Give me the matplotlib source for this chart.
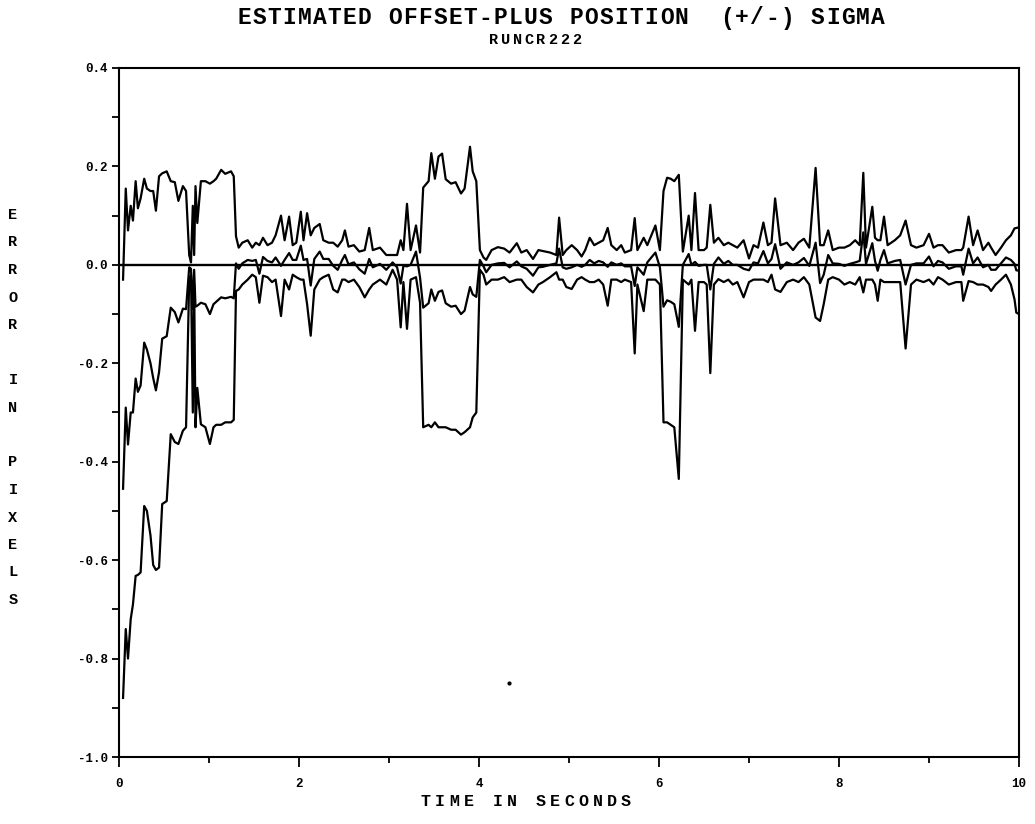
import matplotlib.pyplot as plt
from matplotlib.ticker import MultipleLocator

# time axis (seconds) and the three traces:
# estimate + sigma, estimate, estimate - sigma
time_s = [
    0.045, 0.075, 0.10, 0.13, 0.155, 0.185, 0.21, 0.24, 0.28, 0.31,
    0.35, 0.38, 0.41, 0.445, 0.48, 0.53, 0.575, 0.62, 0.66, 0.71,
    0.745, 0.78, 0.80, 0.82, 0.835, 0.85, 0.87, 0.91, 0.96, 1.01,
    1.05, 1.08, 1.135, 1.18, 1.245, 1.275,
    1.30, 1.33, 1.37, 1.43, 1.48, 1.52, 1.56, 1.60, 1.65, 1.70,
    1.74, 1.80, 1.84, 1.89, 1.93, 1.97, 2.02, 2.05, 2.09, 2.13,
    2.17, 2.23, 2.27, 2.33, 2.38, 2.43, 2.48, 2.51, 2.55, 2.61,
    2.67, 2.73, 2.78, 2.82, 2.90, 2.97, 3.04, 3.09, 3.13, 3.16,
    3.20, 3.24, 3.30, 3.345,
    3.38, 3.44, 3.47, 3.51, 3.55, 3.59, 3.63, 3.69, 3.74, 3.80,
    3.84, 3.90, 3.93, 3.97,
    4.01, 4.05, 4.08, 4.14, 4.21, 4.28, 4.34, 4.42, 4.47, 4.53,
    4.60, 4.66, 4.71, 4.79, 4.86, 4.89, 4.93, 4.97, 5.03, 5.09,
    5.14, 5.18, 5.23, 5.28, 5.33, 5.38, 5.43, 5.47, 5.53, 5.58,
    5.62, 5.69, 5.73, 5.76, 5.83, 5.87, 5.96, 6.01,
    6.05, 6.09, 6.13, 6.17, 6.22,
    6.265, 6.33, 6.36, 6.40, 6.44, 6.50, 6.53, 6.57, 6.61, 6.66,
    6.72, 6.77, 6.82, 6.87, 6.94, 7.00, 7.05, 7.10, 7.16, 7.21,
    7.25, 7.29, 7.35, 7.42, 7.49, 7.55, 7.61, 7.67, 7.74, 7.79,
    7.83, 7.88, 7.93, 8.00, 8.06, 8.12, 8.18, 8.23, 8.27, 8.30,
    8.37, 8.40, 8.43, 8.46, 8.50, 8.54, 8.62, 8.68, 8.74, 8.80,
    8.86, 8.94, 9.00, 9.05, 9.10, 9.15, 9.22, 9.30, 9.36, 9.38,
    9.44, 9.49, 9.54, 9.60, 9.66, 9.69, 9.74, 9.80, 9.855, 9.91,
    9.95, 9.97, 10.0,
]

upper = [
    -0.03, 0.155, 0.07, 0.12, 0.09, 0.17, 0.115, 0.135, 0.175, 0.155,
    0.15, 0.15, 0.11, 0.18, 0.186, 0.19, 0.17, 0.168, 0.13, 0.16,
    0.15, 0.02, 0.005, 0.12, 0.02, 0.16, 0.085, 0.17, 0.17, 0.165,
    0.17, 0.175, 0.193, 0.185, 0.19, 0.18,
    0.058, 0.035, 0.045, 0.05, 0.035, 0.045, 0.04, 0.055, 0.04, 0.045,
    0.06, 0.10, 0.05, 0.098, 0.04, 0.045, 0.108, 0.05, 0.105, 0.06,
    0.075, 0.083, 0.05, 0.045, 0.045, 0.037, 0.05, 0.07, 0.037, 0.04,
    0.027, 0.03, 0.075, 0.03, 0.035, 0.02, 0.02, 0.02, 0.05, 0.03,
    0.124, 0.03, 0.08, 0.025,
    0.157, 0.17, 0.227, 0.175, 0.22, 0.226, 0.174, 0.165, 0.168, 0.145,
    0.155, 0.24, 0.19, 0.17,
    0.03, 0.015, 0.01, 0.03, 0.036, 0.033, 0.025, 0.044, 0.025, 0.03,
    0.012, 0.03, 0.028, 0.025, 0.02, 0.096, 0.02, 0.03, 0.04, 0.03,
    0.017, 0.03, 0.055, 0.04, 0.045, 0.05, 0.075, 0.04, 0.03, 0.04,
    0.025, 0.03, 0.095, 0.03, 0.055, 0.04, 0.08, 0.03,
    0.15, 0.177, 0.175, 0.17, 0.183,
    0.027, 0.10, 0.03, 0.146, 0.03, 0.03, 0.035, 0.122, 0.045, 0.055,
    0.04, 0.045, 0.04, 0.035, 0.05, 0.013, 0.04, 0.035, 0.086, 0.04,
    0.045, 0.135, 0.04, 0.045, 0.03, 0.045, 0.053, 0.035, 0.197, 0.04,
    0.04, 0.07, 0.03, 0.035, 0.035, 0.04, 0.05, 0.04, 0.187, 0.035,
    0.118, 0.055, 0.05, 0.05, 0.098, 0.04, 0.05, 0.06, 0.09, 0.04,
    0.035, 0.04, 0.063, 0.035, 0.04, 0.04, 0.025, 0.03, 0.03, 0.035,
    0.098, 0.04, 0.07, 0.03, 0.045, 0.035, 0.02, 0.035, 0.05, 0.06,
    0.074, 0.075, 0.076,
]

estimate = [
    -0.455, -0.29, -0.365, -0.30, -0.30, -0.231, -0.258, -0.245, -0.158, -0.172,
    -0.20, -0.23, -0.255, -0.218, -0.15, -0.145, -0.087, -0.096, -0.117, -0.089,
    -0.09, -0.005, -0.008, -0.09, -0.01, -0.085, -0.083, -0.077, -0.08, -0.10,
    -0.08, -0.075, -0.066, -0.068, -0.065, -0.068,
    0.003, -0.008, 0.003, 0.01, 0.008, 0.01, -0.018, 0.016, 0.008, 0.005,
    0.015, -0.002, 0.01, 0.024, 0.01, 0.01, 0.039, 0.01, 0.012, -0.042,
    0.012, 0.027, 0.012, 0.012, -0.002, -0.01, 0.01, 0.02, 0.001, 0.005,
    -0.009, -0.018, 0.012, -0.005, 0.002, -0.01, 0.005, -0.005, -0.038, -0.002,
    -0.003, 0.0, 0.027, -0.026,
    -0.087, -0.078, -0.05, -0.073, -0.055, -0.052, -0.078, -0.085, -0.083, -0.10,
    -0.093, -0.045, -0.06, -0.065,
    0.01, -0.003, -0.015, 0.0, 0.003, 0.004, -0.005, 0.007, -0.003, -0.008,
    -0.022, -0.005, -0.004, 0.0, 0.003, 0.033, -0.005, -0.008, -0.005, 0.0,
    -0.004, 0.0, 0.01, 0.003, 0.008, 0.005, -0.004, 0.005, 0.0, 0.003,
    -0.003, -0.003, -0.043, -0.005, -0.02, 0.005, 0.025, -0.005,
    -0.085, -0.072, -0.075, -0.08, -0.126,
    0.0, 0.022, 0.0, 0.006, -0.002, 0.0, 0.0, -0.05, 0.002, 0.015,
    0.002, 0.008, 0.0, 0.0, -0.008, -0.011, 0.005, 0.003, 0.028, 0.003,
    0.012, 0.042, -0.008, 0.005, 0.0, 0.005, 0.014, -0.002, 0.045, -0.037,
    -0.02, 0.02, 0.003, 0.002, -0.002, 0.002, 0.005, 0.008, 0.066, 0.002,
    0.044, 0.008, -0.012, 0.01, 0.03, 0.003, 0.008, 0.01, -0.04, 0.0,
    0.003, 0.003, 0.017, -0.003, 0.008, 0.005, -0.008, -0.003, -0.003, -0.02,
    0.033, 0.003, 0.015, -0.005, 0.0, -0.01, -0.01, 0.003, 0.015, 0.01,
    0.002, -0.011, -0.012,
]

lower = [
    -0.88, -0.74, -0.80, -0.72, -0.69, -0.632, -0.63, -0.625, -0.49, -0.50,
    -0.55, -0.61, -0.62, -0.615, -0.486, -0.48, -0.344, -0.36, -0.364, -0.337,
    -0.33, -0.03, -0.02, -0.30, -0.04, -0.33, -0.25, -0.324, -0.33, -0.364,
    -0.33, -0.325, -0.325, -0.32, -0.32, -0.315,
    -0.053, -0.05, -0.04, -0.03, -0.02, -0.025, -0.077, -0.022, -0.025, -0.035,
    -0.03, -0.104, -0.03, -0.05, -0.02, -0.025, -0.03, -0.03, -0.08, -0.144,
    -0.05, -0.03, -0.025, -0.02, -0.05, -0.056, -0.03, -0.03, -0.035, -0.03,
    -0.045, -0.066, -0.05, -0.04, -0.03, -0.04, -0.01, -0.03, -0.127, -0.035,
    -0.13, -0.03, -0.025, -0.077,
    -0.33, -0.325, -0.33, -0.32, -0.33, -0.33, -0.33, -0.335, -0.335, -0.345,
    -0.34, -0.33, -0.31, -0.30,
    -0.01, -0.02, -0.04, -0.03, -0.03, -0.025, -0.035, -0.03, -0.03, -0.045,
    -0.056, -0.04, -0.035, -0.025, -0.015, -0.03, -0.03, -0.045, -0.049, -0.03,
    -0.025, -0.03, -0.035, -0.035, -0.03, -0.04, -0.083, -0.03, -0.03, -0.035,
    -0.03, -0.035, -0.18, -0.04, -0.094, -0.03, -0.03, -0.04,
    -0.32, -0.32, -0.325, -0.33, -0.435,
    -0.03, -0.04, -0.03, -0.134, -0.035, -0.035, -0.04, -0.22, -0.04, -0.029,
    -0.035, -0.03, -0.04, -0.035, -0.066, -0.035, -0.03, -0.03, -0.03, -0.035,
    -0.02, -0.05, -0.055, -0.035, -0.03, -0.035, -0.025, -0.04, -0.107, -0.114,
    -0.08, -0.03, -0.025, -0.03, -0.04, -0.035, -0.04, -0.025, -0.056, -0.03,
    -0.03, -0.04, -0.073, -0.03, -0.035, -0.035, -0.035, -0.035, -0.17, -0.04,
    -0.03, -0.035, -0.03, -0.04, -0.025, -0.03, -0.04, -0.035, -0.035, -0.073,
    -0.033, -0.035, -0.04, -0.04, -0.045, -0.053, -0.04, -0.03, -0.02, -0.04,
    -0.07, -0.097, -0.10,
]

# stray dot on the original plot
speck_t = [4.33]
speck_v = [-0.85]

W, H = 1035, 824
MONO = 'Liberation Mono'

fig = plt.figure(figsize=(W / 100, H / 100), dpi=100)
ax = fig.add_axes([119 / W, 1 - 757 / H, (1019 - 119) / W, (757 - 68) / H])

for series in (upper, estimate, lower):
    ax.plot(time_s, series, color='black', lw=1.6, solid_joinstyle='round')
ax.axhline(0.0, color='black', lw=1.7)
ax.plot(speck_t, speck_v, 'o', color='black', ms=2)

ax.set_xlim(0, 10)
ax.set_ylim(-1.0, 0.4)

ax.xaxis.set_major_locator(MultipleLocator(2))
ax.xaxis.set_minor_locator(MultipleLocator(1))
ax.yaxis.set_major_locator(MultipleLocator(0.2))
ax.yaxis.set_minor_locator(MultipleLocator(0.1))
ax.yaxis.set_major_formatter(plt.FuncFormatter(lambda v, p: f'{v:.1f}'))

ax.tick_params(axis='x', which='major', direction='out', length=7, width=1.3, pad=8)
ax.tick_params(axis='x', which='minor', direction='out', length=4, width=1.3)
ax.tick_params(axis='y', which='both', direction='out', length=5, width=1.3, pad=3)

for lab in ax.get_xticklabels() + ax.get_yticklabels():
    lab.set_family(MONO)
    lab.set_weight('bold')
    lab.set_fontsize(9)

for sp in ax.spines.values():
    sp.set_linewidth(1.5)


def spaced_text(s, xc, y, pitch, size):
    # draw a string one character at a time with fixed letter pitch (pixels)
    n = len(s)
    for i, ch in enumerate(s):
        x = xc + (i - (n - 1) / 2) * pitch
        fig.text(x / W, 1 - y / H, ch, ha='center', va='center',
                 fontsize=size, family=MONO, weight='bold')


spaced_text('ESTIMATED OFFSET-PLUS POSITION  (+/-) SIGMA', 561, 18, 15.1, 16.5)
spaced_text('RUNCR222', 535, 40, 11.9, 11)
spaced_text('TIME IN SECONDS', 526, 802, 14.3, 12)

# vertical stacked y label
for i, ch in enumerate('ERROR IN PIXELS'):
    fig.text(13 / W, 1 - (215 + i * 27.5) / H, ch, ha='center', va='center',
             fontsize=11, family=MONO, weight='bold')

fig.savefig('out.png', dpi=100)
